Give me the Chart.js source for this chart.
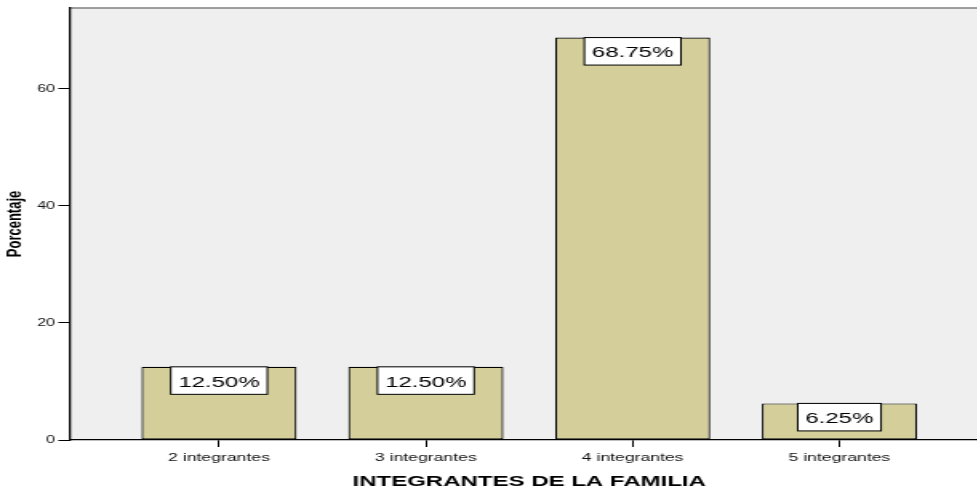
<!DOCTYPE html>
<html>
<head>
<meta charset="utf-8">
<script src="https://cdn.jsdelivr.net/npm/chart.js@4.4.1/dist/chart.umd.min.js"></script>
<style>
    html, body { margin: 0; padding: 0; background: #fff; overflow: hidden; }
    /* le graphique d'origine est étiré horizontalement : on étire le canvas */
    #grafico { display: block; width: 989px !important; height: 489px !important; }
</style>
</head>
<body>
<canvas id="grafico" width="618" height="489"></canvas>
<script>
// Données
const categorias = ['2 integrantes', '3 integrantes', '4 integrantes', '5 integrantes'];
const porcentajes = [12.5, 12.5, 68.75, 6.25];
const ticksY = [0, 20, 40, 60];
const tituloX = 'INTEGRANTES DE LA FAMILIA';
const tituloY = 'Porcentaje';

const FUENTE = "'Liberation Sans', Arial, sans-serif";

/**
 * Fond gris de la zone de tracé + trait gris en haut
 */
const fondPlugin = {
    id: 'fond',
    beforeDraw(chart) {
        const { ctx, chartArea: a } = chart;
        ctx.save();
        ctx.fillStyle = '#efefef';
        ctx.fillRect(a.left, a.top, a.right - a.left, a.bottom - a.top);
        ctx.strokeStyle = '#7f7f7f';
        ctx.lineWidth = 1.5;
        ctx.beginPath();
        ctx.moveTo(a.left, a.top);
        ctx.lineTo(a.right, a.top);
        ctx.stroke();
        ctx.restore();
    }
};

/**
 * Étiquettes "xx.xx%" dans une boîte blanche en haut de chaque barre
 */
const etiquettesPlugin = {
    id: 'etiquettes',
    afterDatasetsDraw(chart) {
        const ctx = chart.ctx;
        const meta = chart.getDatasetMeta(0);
        ctx.save();
        ctx.font = `15px ${FUENTE}`;
        ctx.textAlign = 'center';
        ctx.textBaseline = 'middle';
        meta.data.forEach((bar, i) => {
            const texte = porcentajes[i].toFixed(2) + '%';
            const w = ctx.measureText(texte).width + 9.5;
            const h = 27.5;
            const x = bar.x - w / 2;
            const y = bar.y;
            ctx.fillStyle = '#fff';
            ctx.fillRect(x, y, w, h);
            ctx.strokeStyle = '#000';
            ctx.lineWidth = 1;
            ctx.strokeRect(x, y, w, h);
            ctx.fillStyle = '#000';
            ctx.fillText(texte, bar.x, y + h / 2 + 2);
        });
        ctx.restore();
    }
};

new Chart(document.getElementById('grafico'), {
    type: 'bar',
    data: {
        datasets: [{
            data: porcentajes.map((v, i) => ({ x: i + 1, y: v })),
            backgroundColor: '#d3ce9a',
            borderColor: '#000',
            borderWidth: 1.2,
            borderSkipped: false,
            barPercentage: 0.75,
            categoryPercentage: 1
        }]
    },
    options: {
        responsive: false,
        devicePixelRatio: 1,
        animation: false,
        layout: { padding: { top: 7, right: 0, bottom: 0, left: 0 } },
        plugins: {
            legend: { display: false },
            tooltip: { enabled: false }
        },
        scales: {
            x: {
                type: 'linear',
                min: 0.2767,
                max: 4.7233,
                offset: false,
                afterBuildTicks: s => { s.ticks = categorias.map((c, i) => ({ value: i + 1 })); },
                afterFit: s => { s.height = 49; },
                ticks: {
                    callback: v => categorias[v - 1],
                    color: '#111',
                    font: { family: FUENTE, size: 11 },
                    padding: 4,
                    maxRotation: 0,
                    autoSkip: false
                },
                grid: { drawOnChartArea: false, drawTicks: true, tickLength: 7, color: '#000', lineWidth: 1, offset: false },
                border: { display: true, color: '#000', width: 1.3 },
                title: {
                    display: true,
                    text: tituloX,
                    color: '#000',
                    font: { family: FUENTE, size: 15, weight: 'bold', lineHeight: 1 },
                    padding: { top: 0, bottom: 0 }
                }
            },
            y: {
                min: 0,
                max: 73.8,
                afterBuildTicks: s => { s.ticks = ticksY.map(v => ({ value: v })); },
                afterFit: s => { s.width = 43.4; },
                ticks: { color: '#111', font: { family: FUENTE, size: 10 }, padding: 2 },
                grid: { drawOnChartArea: false, drawTicks: true, tickLength: 7, color: '#000', lineWidth: 1 },
                border: { display: true, color: '#000', width: 1.3 },
                title: {
                    display: true,
                    text: tituloY,
                    color: '#000',
                    font: { family: FUENTE, size: 13, weight: 'bold' },
                    padding: { top: 2, bottom: 0 }
                }
            }
        }
    },
    plugins: [fondPlugin, etiquettesPlugin]
});
</script>
</body>
</html>
